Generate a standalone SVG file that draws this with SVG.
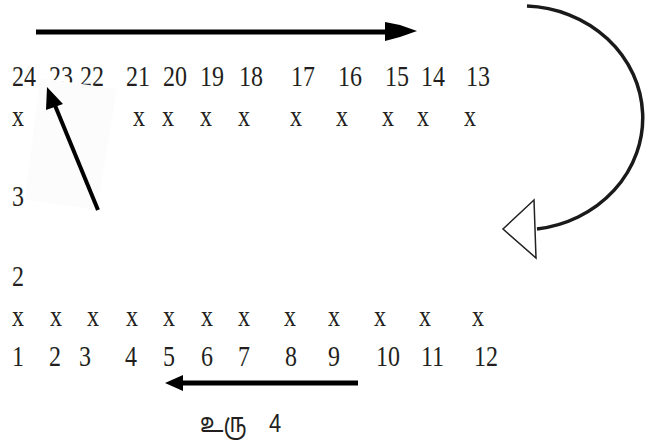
<svg xmlns="http://www.w3.org/2000/svg" width="645" height="443" viewBox="0 0 645 443">
  <style>
    .num { font-family: "Liberation Serif", "Times New Roman", serif; font-size: 24px; fill: #231f20; }
    .cap { font-family: "Liberation Sans", "Noto Sans", "Noto Sans Tamil", sans-serif; font-size: 22px; fill: #231f20; }
    .shaft { stroke: #000; stroke-width: 5; fill: none; }
    .head { fill: #000; stroke: none; }
  </style>

  <!-- top row: seats 24..13 and markers (text stretched vertically) -->
  <g id="row-top" transform="scale(1,1.2)">
    <text class="num" x="12" y="71.5">24</text>
    <text class="num" x="49" y="71.5">23</text>
    <text class="num" x="80" y="71.5">22</text>
    <text class="num" x="126" y="71.5">21</text>
    <text class="num" x="163" y="71.5">20</text>
    <text class="num" x="200" y="71.5">19</text>
    <text class="num" x="239" y="71.5">18</text>
    <text class="num" x="291" y="71.5">17</text>
    <text class="num" x="338" y="71.5">16</text>
    <text class="num" x="385" y="71.5">15</text>
    <text class="num" x="421" y="71.5">14</text>
    <text class="num" x="466" y="71.5">13</text>

    <text class="num" x="12" y="105">x</text>
    <text class="num" x="133" y="105">x</text>
    <text class="num" x="162" y="105">x</text>
    <text class="num" x="200" y="105">x</text>
    <text class="num" x="238" y="105">x</text>
    <text class="num" x="290" y="105">x</text>
    <text class="num" x="336" y="105">x</text>
    <text class="num" x="382" y="105">x</text>
    <text class="num" x="417" y="105">x</text>
    <text class="num" x="464" y="105">x</text>
  </g>

  <!-- side labels -->
  <g id="side-labels" transform="scale(1,1.2)">
    <text class="num" x="12" y="171.5">3</text>
    <text class="num" x="12" y="238.3">2</text>
  </g>

  <!-- bottom row: markers and seats 1..12 -->
  <g id="row-bottom" transform="scale(1,1.2)">
    <text class="num" x="12" y="271.7">x</text>
    <text class="num" x="50" y="271.7">x</text>
    <text class="num" x="87" y="271.7">x</text>
    <text class="num" x="126" y="271.7">x</text>
    <text class="num" x="163" y="271.7">x</text>
    <text class="num" x="201" y="271.7">x</text>
    <text class="num" x="238" y="271.7">x</text>
    <text class="num" x="284" y="271.7">x</text>
    <text class="num" x="328" y="271.7">x</text>
    <text class="num" x="374" y="271.7">x</text>
    <text class="num" x="419" y="271.7">x</text>
    <text class="num" x="472" y="271.7">x</text>

    <text class="num" x="12" y="305">1</text>
    <text class="num" x="49" y="305">2</text>
    <text class="num" x="79" y="305">3</text>
    <text class="num" x="125" y="305">4</text>
    <text class="num" x="163" y="305">5</text>
    <text class="num" x="201" y="305">6</text>
    <text class="num" x="238" y="305">7</text>
    <text class="num" x="285" y="305">8</text>
    <text class="num" x="328" y="305">9</text>
    <text class="num" x="376" y="305">10</text>
    <text class="num" x="421" y="305">11</text>
    <text class="num" x="474" y="305">12</text>
  </g>

  <!-- caption -->
  <g id="caption" transform="scale(1,1.2)">
    <text class="cap" x="200" y="360">உரு</text>
    <text class="cap" x="269" y="360">4</text>
  </g>

  <g id="connectors">
    <!-- top arrow, pointing right -->
    <line class="shaft" x1="36" y1="32" x2="392" y2="32"/>
    <polygon class="head" points="385,22 400,25 417,31 400,37 385,41"/>

    <!-- tilted pale panel with the diagonal arrow -->
    <polygon points="40,78 117,89 97,210 25,200" fill="#fcfcfc"/>
    <line x1="98" y1="210" x2="54" y2="103" stroke="#000" stroke-width="4"/>
    <polygon class="head" points="47,87 63,104 46,110"/>

    <!-- curved return arrow on the right -->
    <path d="M527,6 A121,112 0 0 1 537,229" fill="none" stroke="#1a1a1a" stroke-width="3.5"/>
    <polygon points="534,200 503,229 536,258" fill="#fff" stroke="#222" stroke-width="1.5"/>

    <!-- bottom arrow, pointing left -->
    <line class="shaft" x1="178" y1="383" x2="358" y2="383"/>
    <polygon class="head" points="165,383 183,375 183,391"/>
  </g>
</svg>
